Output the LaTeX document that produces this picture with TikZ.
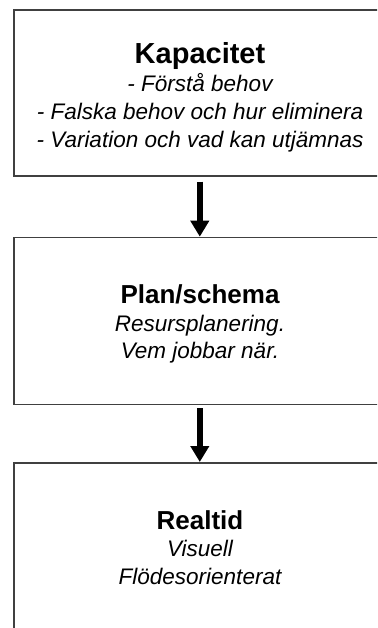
\documentclass[tikz,border=0pt]{standalone}
\usepackage{fontspec}
\setmainfont{Liberation Sans}
\usetikzlibrary{arrows.meta}
\definecolor{boxgray}{RGB}{64,64,64}
\begin{document}
\begin{tikzpicture}[x=1pt,y=-1pt,
  box/.style={draw=boxgray, line width=1.6pt, minimum width=374pt, inner sep=0pt, anchor=north west, fill=white},
  bigtitle/.style={anchor=base, inner sep=0pt, font=\fontsize{29}{34}\selectfont\bfseries},
  title/.style={anchor=base, inner sep=0pt, font=\fontsize{26}{31}\selectfont\bfseries},
  item/.style={anchor=base, inner sep=0pt, font=\fontsize{22.5}{27}\selectfont\itshape},
  flow/.style={draw=black, line width=6pt, -{Triangle[length=16pt, width=18pt]}}
]
\useasboundingbox (0,0) rectangle (377,628);
\fill[white] (0,0) rectangle (377,628);
\clip (0,0) rectangle (377,628);

\node[box, minimum height=165.5pt] (b1) at (13,9.5) {};
\node[box, minimum height=167pt] (b2) at (13,236.7) {};
\node[box, minimum height=175pt] (b3) at (13,462) {};

\node[bigtitle] (t1) at (200,63.3) {Kapacitet};
\node[item] (t1a) at (200,91.7) {- Förstå behov};
\node[item] (t1b) at (200,119.3) {- Falska behov och hur eliminera};
\node[item] (t1c) at (200,147.7) {- Variation och vad kan utjämnas};

\node[title] (t2) at (200,303.3) {Plan/schema};
\node[item] (t2a) at (200,331) {Resursplanering.};
\node[item] (t2b) at (200,358.3) {Vem jobbar när.};

\node[title] (t3) at (200,529) {Realtid};
\node[item] (t3a) at (200,556.7) {Visuell};
\node[item] (t3b) at (200,584.3) {Flödesorienterat};

\draw[flow] ([xshift=-1pt,yshift=-5pt]b1.south) -- ([xshift=-1pt]b2.north);
\draw[flow] ([xshift=-1pt,yshift=-3pt]b2.south) -- ([xshift=-1pt]b3.north);
\end{tikzpicture}
\end{document}
